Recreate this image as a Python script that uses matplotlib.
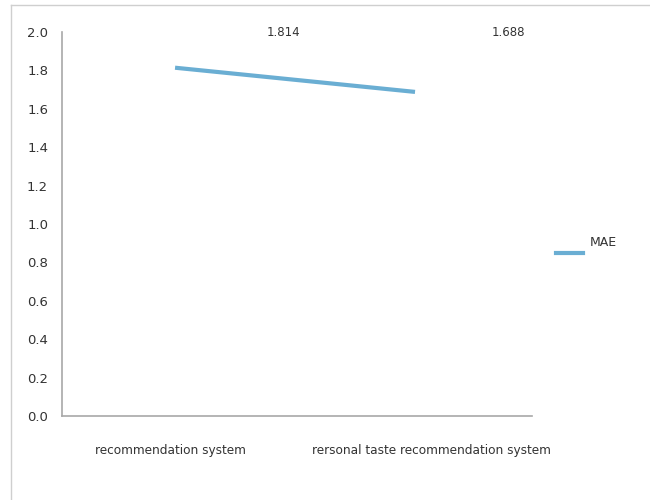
import matplotlib
matplotlib.use('Agg')
import matplotlib.pyplot as plt
from matplotlib.lines import Line2D

categories = ["recommendation system", "rersonal taste recommendation system"]
mae_values = [1.814, 1.688]
value_labels = ["1.814", "1.688"]
label_offsets = [0.45, 1.39]
tick_shift = [-0.02, 0.07]
series_name = "MAE"

line_color = "#6aaed3"
axis_color = "#a8a8a8"
text_color = "#333333"

fig = plt.figure(figsize=(6.5, 5), dpi=100)
ax = fig.add_axes([0.0954, 0.168, 0.7231, 0.768])

x = list(range(len(categories)))
ax.plot(x, mae_values, color=line_color, linewidth=3, solid_capstyle='butt')

ax.set_xlim(-0.471, 1.4875)
ax.set_ylim(0, 2.0)
ax.set_yticks([i / 10 for i in range(0, 21, 2)])
ax.set_yticklabels([f"{i / 10:.1f}" for i in range(0, 21, 2)])
ax.set_xticks([i + s for i, s in zip(x, tick_shift)])
ax.set_xticklabels(categories)
ax.tick_params(axis='both', length=0, colors=text_color)
ax.tick_params(axis='y', pad=10, labelsize=9.5)
ax.tick_params(axis='x', pad=20, labelsize=8.7)

for side in ['top', 'right']:
    ax.spines[side].set_visible(False)
for side in ['left', 'bottom']:
    ax.spines[side].set_color(axis_color)
    ax.spines[side].set_linewidth(1.2)

for off, txt in zip(label_offsets, value_labels):
    ax.text(off, 2.0, txt, ha='center', va='center', fontsize=8.5, color=text_color)

# legend drawn by hand, right of the plot
fig.add_artist(Line2D([556 / 650, 583 / 650], [1 - 253 / 500, 1 - 253 / 500],
                      color=line_color, linewidth=3, transform=fig.transFigure))
fig.text(590 / 650, 1 - 243 / 500, series_name, ha='left', va='center',
         fontsize=9, color=text_color)

# thin frame at top and left, like the screenshot border
frame = "#cfcfcf"
fig.add_artist(Line2D([11 / 650, 1], [1 - 5 / 500, 1 - 5 / 500], color=frame,
                      linewidth=1, transform=fig.transFigure))
fig.add_artist(Line2D([11 / 650, 11 / 650], [0, 1 - 5 / 500], color=frame,
                      linewidth=1, transform=fig.transFigure))

fig.savefig("out.png", dpi=100)
plt.close(fig)
